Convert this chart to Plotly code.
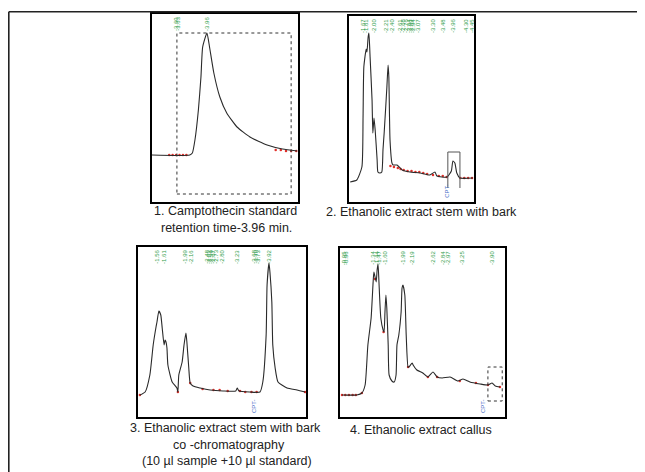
import plotly.graph_objects as go

# ---------------- data ----------------
# Panel 1: camptothecin standard
p1_time = [3.32, 3.76, 3.79, 3.82, 3.86, 3.89, 3.91, 3.96, 3.99, 4.04, 4.11, 4.19, 4.31, 4.46, 4.66, 4.84, 5.01]
p1_signal = [47, 47, 49, 62, 92, 125, 155, 169, 155, 129, 105, 89, 75, 65, 57, 53, 51]
p1_base_time = [3.52, 3.56, 3.60, 3.64, 3.68, 3.72, 4.76, 4.82, 4.88, 4.94, 5.00]
p1_base_signal = [47, 47, 47, 47, 47, 47, 52, 52, 51, 51, 51]
p1_peak_time = [3.60, 3.62, 3.96]
p1_peak_text = ["-3.60", "-3.63", "-3.96"]
p1_box = [3.61, 4.94, 8, 169]

# Panel 2: ethanolic extract stem with bark
p2_time = [1.33, 1.50, 1.63, 1.66, 1.68, 1.74, 1.76, 1.79, 1.81, 1.84, 1.89, 1.91, 1.94, 1.97, 2.02, 2.04,
           2.09, 2.14, 2.17, 2.20, 2.27, 2.30, 2.32, 2.35, 2.40, 2.43, 2.53, 2.66, 2.86, 3.12, 3.37, 3.50,
           3.55, 3.81, 3.92, 3.96, 4.01, 4.06, 4.14, 4.47]
p2_signal = [20, 22, 35, 85, 135, 153, 150, 165, 169, 145, 102, 69, 84, 72, 42, 30,
             29, 30, 52, 69, 115, 137, 125, 62, 39, 37, 37, 32, 30, 29, 27, 30,
             26, 25, 31, 41, 39, 29, 24, 24]
p2_base_time = [2.36, 2.45, 2.55, 2.62, 2.70, 2.80, 2.90, 3.00, 3.10, 3.20, 3.30, 3.45, 3.60, 3.70, 3.80, 4.15, 4.25, 4.35, 4.45]
p2_base_signal = [36, 35, 34, 33, 32, 31, 31, 30, 30, 29, 28, 27, 26, 26, 25, 24, 24, 24, 24]
p2_peak_time = [1.66, 1.74, 1.94, 2.25, 2.40, 2.61, 2.68, 2.76, 2.84, 2.89, 2.94, 3.07, 3.45, 3.71, 3.96, 4.30, 4.45]
p2_peak_text = ["-1.67", "-1.81", "-2.00", "-2.21", "-2.40", "-2.61", "-2.68", "-2.76", "-2.84", "-2.89",
                "-2.94", "-3.07", "-3.30", "-3.48", "-3.96", "-4.30", "-4.45"]
p2_cpt_time = 3.80
p2_box = [3.83, 4.14, 14, 50]

# Panel 3: co-chromatography
p3_time = [1.20, 1.31, 1.41, 1.48, 1.54, 1.56, 1.60, 1.64, 1.67, 1.71, 1.73, 1.75, 1.77, 1.79, 1.88, 1.98,
           2.00, 2.02, 2.09, 2.13, 2.17, 2.19, 2.23, 2.26, 2.32, 2.47, 2.68, 2.95, 3.22, 3.25, 3.29, 3.52,
           3.73, 3.79, 3.86, 3.88, 3.92, 3.94, 3.98, 4.00, 4.05, 4.11, 4.30, 4.51, 4.68]
p3_signal = [22, 25, 42, 72, 90, 95, 106, 102, 89, 72, 77, 75, 69, 52, 35, 29,
             25, 42, 55, 72, 84, 75, 49, 34, 31, 29, 27, 26, 26, 29, 26, 25,
             25, 35, 82, 132, 154, 145, 115, 72, 49, 35, 29, 27, 25]
p3_base_time = [1.20, 2.00, 2.26, 2.52, 2.75, 2.88, 3.05, 3.31, 3.42, 3.55, 3.66, 4.68]
p3_base_signal = [22, 25, 34, 28, 27, 27, 26, 26, 25, 25, 25, 25]
p3_peak_time = [1.56, 1.71, 2.15, 2.28, 2.61, 2.66, 2.70, 2.74, 2.80, 2.93, 3.25, 3.60, 3.64, 3.69, 3.92]
p3_peak_text = ["-1.56", "-1.61", "-1.99", "-2.16", "-2.48", "-2.53", "-2.59", "-2.67", "-2.73", "-2.80",
                "-3.23", "-3.68", "-3.70", "-3.73", "-3.92"]
p3_cpt_time = 3.62

# Panel 4: ethanolic extract callus
p4_time = [0.65, 0.97, 1.08, 1.15, 1.21, 1.28, 1.32, 1.34, 1.39, 1.41, 1.43, 1.45, 1.49, 1.54, 1.56, 1.58,
           1.60, 1.62, 1.65, 1.67, 1.73, 1.78, 1.82, 1.84, 1.88, 1.93, 1.95, 1.97, 2.01, 2.04, 2.08, 2.10,
           2.17, 2.19, 2.27, 2.40, 2.51, 2.62, 2.71, 2.82, 2.99, 3.16, 3.27, 3.42, 3.64, 3.81, 3.90, 3.97, 4.07]
p4_signal = [22, 22, 24, 32, 72, 99, 132, 145, 135, 147, 153, 135, 99, 87, 85, 105,
             122, 109, 72, 42, 36, 35, 42, 72, 82, 105, 129, 132, 122, 82, 50, 50,
             54, 52, 47, 44, 40, 45, 40, 39, 40, 36, 38, 35, 33, 32, 34, 31, 30]
p4_base_time = [0.65, 0.72, 0.80, 0.88, 0.95, 1.08, 1.36, 1.55, 2.08, 2.51, 2.71, 3.20, 3.55, 3.81, 4.07]
p4_base_signal = [22, 22, 22, 22, 22, 24, 138, 85, 50, 40, 40, 36, 34, 32, 30]
p4_peak_time = [0.70, 0.74, 1.32, 1.41, 1.45, 1.58, 1.97, 2.17, 2.62, 2.84, 2.95, 3.25, 3.90]
p4_peak_text = ["-0.95", "-0.96", "-1.34", "-1.44", "-1.47", "-1.60", "-1.99", "-2.19", "-2.62", "-2.84",
                "-2.97", "-3.25", "-3.90"]
p4_cpt_time = 3.72
p4_box = [3.81, 4.12, 16, 50]

captions = {
    1: ["1. Camptothecin standard", "retention time-3.96 min."],
    2: ["2. Ethanolic extract stem with bark"],
    3: ["3. Ethanolic extract stem with bark", "co -chromatography", "(10 µl sample +10 µl standard)"],
    4: ["4. Ethanolic extract callus"],
}

# ---------------- layout ----------------
OFF = 8            # page body margin
W, H = 645 - OFF, 472 - OFF
panels = {
    1: dict(px=(152, 298), py=(14, 202), xr=(3.32, 5.02), yr=(0, 188)),
    2: dict(px=(349, 474), py=(16, 202), xr=(1.30, 4.50), yr=(0, 186)),
    3: dict(px=(138, 306), py=(247, 417), xr=(1.16, 4.70), yr=(0, 170)),
    4: dict(px=(340, 505), py=(248, 417), xr=(0.606, 4.18), yr=(0, 169)),
}
caption_pos = {1: ([225, 226], 211, 17), 2: ([421], 212, 17),
               3: ([225, 229, 227], 428, 16.5), 4: ([421], 430, 17)}


def fx(p):
    return (p - OFF) / W


def fy(p):
    return 1 - (p - OFF) / H


LINE = "#2a2a2a"
GREEN = "#33a04e"
BLUE = "#4a6fc8"
RED = "#e0302a"
FONT = "Liberation Sans, Arial, sans-serif"

fig = go.Figure()
data = {
    1: (p1_time, p1_signal, p1_base_time, p1_base_signal, p1_peak_time, p1_peak_text),
    2: (p2_time, p2_signal, p2_base_time, p2_base_signal, p2_peak_time, p2_peak_text),
    3: (p3_time, p3_signal, p3_base_time, p3_base_signal, p3_peak_time, p3_peak_text),
    4: (p4_time, p4_signal, p4_base_time, p4_base_signal, p4_peak_time, p4_peak_text),
}

annotations = []
shapes = []
for i, p in panels.items():
    xa = "x" if i == 1 else f"x{i}"
    ya = "y" if i == 1 else f"y{i}"
    t, s, bt, bs, pt, ptxt = data[i]
    fig.add_trace(go.Scatter(x=bt, y=bs, xaxis=xa, yaxis=ya, mode="markers",
                             marker=dict(color=RED, size=2.5), showlegend=False, hoverinfo="skip"))
    fig.add_trace(go.Scatter(x=t, y=s, xaxis=xa, yaxis=ya, mode="lines",
                             line=dict(color=LINE, width=1.1, shape="spline", smoothing=0.5),
                             showlegend=False))
    ax = dict(domain=[fx(p["px"][0]), fx(p["px"][1])], range=list(p["xr"]), showgrid=False,
              zeroline=False, showticklabels=False, ticks="", showline=True, mirror=True,
              linecolor="#000", linewidth=1.5, anchor=ya)
    ay = dict(domain=[fy(p["py"][1]), fy(p["py"][0])], range=list(p["yr"]), showgrid=False,
              zeroline=False, showticklabels=False, ticks="", showline=True, mirror=True,
              linecolor="#000", linewidth=1.5, anchor=xa)
    key = "" if i == 1 else str(i)
    fig.update_layout(**{f"xaxis{key}": ax, f"yaxis{key}": ay})
    for tt, txt in zip(pt, ptxt):
        annotations.append(dict(x=tt, y=0.995, xref=xa, yref=f"{ya} domain", text=txt, textangle=-90,
                                showarrow=False, yanchor="top", xanchor="center",
                                font=dict(family=FONT, size=6, color=GREEN)))
    cxs, cy, lh = caption_pos[i]
    for k, line in enumerate(captions[i]):
        annotations.append(dict(x=fx(cxs[k]), y=fy(cy + k * lh), xref="paper", yref="paper", text=line,
                                showarrow=False, xanchor="center", yanchor="middle",
                                font=dict(family=FONT, size=12.5, color="#222")))

# dashed rectangles and bracket
shapes.append(dict(type="rect", xref="x", yref="y", x0=p1_box[0], x1=p1_box[1], y0=p1_box[2], y1=p1_box[3],
                   line=dict(color="#333", width=1, dash="dot")))
shapes.append(dict(type="path", xref="x2", yref="y2",
                   path=f"M {p2_box[0]},{p2_box[2]} L {p2_box[0]},{p2_box[3]} L {p2_box[1]},{p2_box[3]} L {p2_box[1]},{p2_box[2]}",
                   line=dict(color="#555", width=1)))
shapes.append(dict(type="rect", xref="x4", yref="y4", x0=p4_box[0], x1=p4_box[1], y0=p4_box[2], y1=p4_box[3],
                   line=dict(color="#333", width=1, dash="dot")))

# CPT labels
for xa, ya, ct in [("x2", "y2", p2_cpt_time), ("x3", "y3", p3_cpt_time), ("x4", "y4", p4_cpt_time)]:
    annotations.append(dict(x=ct, y=0.01, xref=xa, yref=f"{ya} domain", text="CPT-", textangle=-90,
                            showarrow=False, yanchor="bottom", xanchor="center",
                            font=dict(family=FONT, size=6, color=BLUE)))

# outer frame (top and left)
shapes.append(dict(type="line", xref="paper", yref="paper", x0=fx(8.8), x1=1, y0=fy(11.7), y1=fy(11.7),
                   line=dict(color="#222", width=1.6)))
shapes.append(dict(type="line", xref="paper", yref="paper", x0=fx(8.8), x1=fx(8.8), y0=0, y1=fy(11.7),
                   line=dict(color="#222", width=1.6)))

fig.update_layout(width=W, height=H, margin=dict(l=0, r=0, t=0, b=0), paper_bgcolor="white",
                  plot_bgcolor="white", annotations=annotations, shapes=shapes, showlegend=False)

fig.write_html("out.html")
